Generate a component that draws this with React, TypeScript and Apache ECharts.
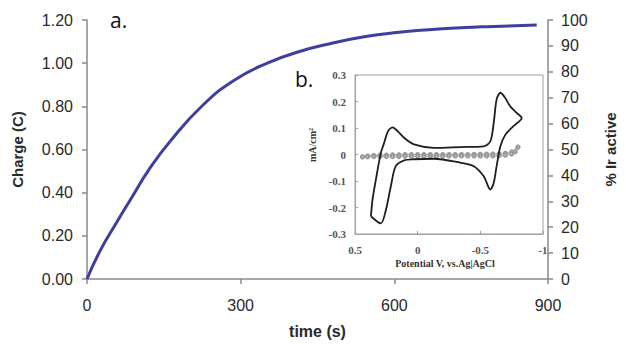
import React, { useEffect, useRef } from "react";
import * as echarts from "echarts";

// Main chart: charge vs time
const timeS = [0, 25, 56, 88, 119, 163, 226, 289, 352, 415, 478, 541, 604, 667, 730, 793, 878];
const chargeC = [0, 0.128, 0.255, 0.38, 0.5, 0.64, 0.805, 0.923, 1.0, 1.054, 1.092, 1.122, 1.142, 1.155, 1.164, 1.17, 1.177];

// Inset: cyclic voltammogram (black loop)
const cvPotential = [0.373, 0.294, 0.254, 0.214, 0.175, 0.108, 0.03, -0.13, -0.34, -0.447, -0.527, -0.58, -0.607, -0.63, -0.66, -0.7, -0.764, -0.83, -0.79, -0.738, -0.698, -0.66, -0.63, -0.607, -0.58, -0.527, -0.34, -0.13, 0.029, 0.108, 0.16, 0.2, 0.236, 0.27, 0.294, 0.333, 0.36, 0.373];
const cvCurrent = [-0.233, -0.26, -0.21, -0.12, -0.044, -0.022, -0.018, -0.016, -0.031, -0.044, -0.082, -0.132, -0.107, -0.044, 0.031, 0.075, 0.107, 0.138, 0.157, 0.182, 0.214, 0.233, 0.208, 0.12, 0.05, 0.031, 0.028, 0.025, 0.038, 0.063, 0.088, 0.102, 0.088, 0.04, 0.006, -0.094, -0.17, -0.233];

// Inset: background scan (grey, markers) - forward and return branches
const bgFwdV = [0.44, 0.4, 0.35, 0.3, 0.25, 0.2, 0.15, 0.1, 0.05, 0, -0.05, -0.1, -0.15, -0.2, -0.25, -0.3, -0.35, -0.4, -0.45, -0.5, -0.55, -0.6, -0.65, -0.7, -0.75, -0.8];
const bgFwdI = [-0.009, -0.005, -0.003, -0.002, -0.002, -0.001, -0.001, 0, 0, 0, 0, 0, 0, 0, 0, 0, 0, 0, 0.001, 0.001, 0.002, 0.002, 0.003, 0.005, 0.01, 0.028];
const bgRetV = [-0.8, -0.78, -0.75, -0.7, -0.65, -0.6, -0.55, -0.5, -0.45, -0.4, -0.35, -0.3, -0.25, -0.2, -0.15, -0.1, -0.05, 0, 0.05, 0.1, 0.15, 0.2, 0.25, 0.3, 0.35, 0.4, 0.44];
const bgRetI = [0.028, 0.01, 0.002, -0.003, -0.005, -0.006, -0.006, -0.006, -0.006, -0.006, -0.006, -0.006, -0.006, -0.007, -0.007, -0.007, -0.007, -0.007, -0.007, -0.007, -0.008, -0.008, -0.008, -0.008, -0.008, -0.009, -0.009];

const leftTicks = ["0.00", "0.20", "0.40", "0.60", "0.80", "1.00", "1.20"];

export default function App() {
  const ref = useRef<HTMLDivElement>(null);
  useEffect(() => {
    document.body.style.margin = "0";
    if (!ref.current) return;
    const chart = echarts.init(ref.current, undefined, { renderer: "svg" });
    const sans = "Liberation Sans, Arial, sans-serif";
    const serif = "Liberation Serif, Times New Roman, serif";
    const axisGrey = "#8a8a8a";
    const labelColor = "#2a2a2a";
    const greySeries = (vs: number[], is: number[]) => ({
      type: "line", xAxisIndex: 1, yAxisIndex: 2, symbol: "emptyCircle", symbolSize: 3, showAllSymbol: true,
      data: vs.map((v, i) => [v, is[i]]),
      lineStyle: { color: "#b8b8b8", width: 1.5 },
      itemStyle: { color: "#9a9a9a", borderColor: "#9a9a9a", borderWidth: 0.7 },
      z: 7,
    });
    chart.setOption({
      animation: false,
      backgroundColor: "#ffffff",
      grid: [
        { left: 87, top: 20, width: 476, height: 260, containLabel: false },
        { left: 355, top: 75, width: 188, height: 159, show: true, backgroundColor: "#ffffff", borderColor: "#a0a0a0", borderWidth: 1 },
      ],
      xAxis: [
        {
          type: "value", gridIndex: 0, min: 0, max: 900, interval: 300,
          axisLine: { lineStyle: { color: axisGrey, width: 1.5 } },
          axisTick: { show: true, length: 5, lineStyle: { color: axisGrey, width: 1.5 } },
          axisLabel: { fontFamily: sans, fontSize: 16, color: labelColor, margin: 18 },
          splitLine: { show: false },
          name: "time (s)", nameLocation: "middle", nameGap: 44,
          nameTextStyle: { fontFamily: sans, fontSize: 16, fontWeight: "bold", color: labelColor },
        },
        {
          type: "value", gridIndex: 1, min: -1, max: 0.5, interval: 0.5, inverse: true,
          axisLine: { onZero: false, lineStyle: { color: "#a0a0a0" } },
          axisTick: { show: true, inside: true, length: 3, lineStyle: { color: "#a0a0a0" } },
          axisLabel: { fontFamily: serif, fontSize: 11, fontWeight: "bold", color: "#555", margin: 10,
            formatter: (v: number) => (v === 0 ? "0" : String(v)) },
          splitLine: { show: false },
        },
      ],
      yAxis: [
        {
          type: "value", gridIndex: 0, min: 0, max: 1.2, interval: 0.2,
          axisLine: { show: true, lineStyle: { color: axisGrey, width: 1.5 } },
          axisTick: { show: true, length: 5, lineStyle: { color: axisGrey, width: 1.5 } },
          axisLabel: { fontFamily: sans, fontSize: 16, color: labelColor, margin: 14,
            formatter: (v: number) => leftTicks[Math.round(v / 0.2)] },
          splitLine: { show: false },
          name: "Charge (C)", nameLocation: "middle", nameGap: 62,
          nameTextStyle: { fontFamily: sans, fontSize: 15, fontWeight: "bold", color: labelColor },
        },
        {
          type: "value", gridIndex: 0, min: 0, max: 100, interval: 10, position: "right",
          axisLine: { show: true, lineStyle: { color: axisGrey, width: 1.5 } },
          axisTick: { show: true, length: 5, lineStyle: { color: axisGrey, width: 1.5 } },
          axisLabel: { fontFamily: sans, fontSize: 16, color: labelColor, margin: 13 },
          splitLine: { show: false },
          name: "% Ir active", nameLocation: "middle", nameGap: 55, nameRotate: 90,
          nameTextStyle: { fontFamily: sans, fontSize: 15, fontWeight: "bold", color: labelColor },
        },
        {
          type: "value", gridIndex: 1, min: -0.3, max: 0.3, interval: 0.1,
          axisLine: { show: true, onZero: false, lineStyle: { color: "#a0a0a0" } },
          axisTick: { show: true, inside: true, length: 3, lineStyle: { color: "#a0a0a0" } },
          axisLabel: { fontFamily: serif, fontSize: 11, fontWeight: "bold", color: "#555", margin: 9,
            formatter: (v: number) => { const r = Math.round(v * 10) / 10; return r === 0 ? "0" : String(r); } },
          splitLine: { show: false },
        },
      ],
      series: [
        {
          type: "line", xAxisIndex: 0, yAxisIndex: 0, showSymbol: false, smooth: 0.5,
          data: timeS.map((t, i) => [t, chargeC[i]]),
          lineStyle: { color: "#3d3f9e", width: 3 },
          z: 3,
        },
        greySeries(bgFwdV, bgFwdI),
        greySeries(bgRetV, bgRetI),
        {
          type: "line", xAxisIndex: 1, yAxisIndex: 2, showSymbol: false, smooth: 0.3,
          data: cvPotential.map((v, i) => [v, cvCurrent[i]]),
          lineStyle: { color: "#1e1e1e", width: 1.8 },
          z: 8,
        },
      ],
      graphic: [
        { type: "text", x: 110, y: 20, style: { text: "a.", font: "21px 'Open Sans', sans-serif", fill: "#111", verticalAlign: "middle" } },
        { type: "text", x: 295, y: 79, style: { text: "b.", font: "21px 'Open Sans', sans-serif", fill: "#111", verticalAlign: "middle" } },
        { type: "text", x: 312, y: 145, rotation: Math.PI / 2, style: { text: "mA/cm²", font: "bold 10px 'Liberation Serif', serif", fill: "#333", align: "center", verticalAlign: "middle" }, z: 10 },
        { type: "text", x: 445, y: 263, style: { text: "Potential V, vs.Ag|AgCl", font: "bold 10px 'Liberation Serif', serif", fill: "#333", align: "center", verticalAlign: "middle" }, z: 10 },
      ],
    });
    return () => chart.dispose();
  }, []);
  return <div ref={ref} style={{ width: 626, height: 344 }} />;
}
